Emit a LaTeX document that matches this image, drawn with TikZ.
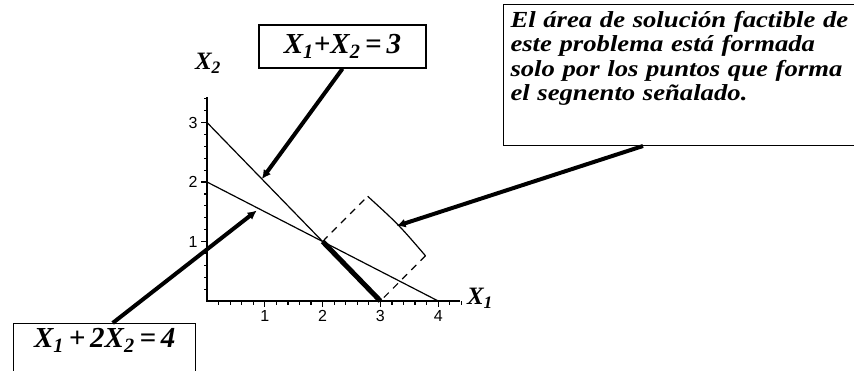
\documentclass[tikz,border=0pt]{standalone}
\usepackage{fontspec}
\setmainfont{Liberation Serif}
\newfontfamily\notefont{Liberation Serif}[FakeStretch=1.16]
\newfontfamily\tickfont{Liberation Sans}
\usetikzlibrary{arrows.meta,positioning,calc}
\newcommand{\xv}[1]{X\textsubscript{#1}}

\begin{document}
\begin{tikzpicture}[x=1pt, y=1pt,
    eqbox/.style={draw=black, line width=1.4pt, fill=white, inner xsep=6pt, inner ysep=4pt,
      font=\bfseries\itshape\fontsize{29}{32}\selectfont},
    notebox/.style={draw=black, line width=1pt, fill=white, inner xsep=7pt, inner ysep=7pt,
      align=left, text width=370pt, text height=16pt, text depth=111pt,
      font=\notefont\bfseries\itshape\fontsize{23}{24.3}\selectfont},
    axislabel/.style={inner sep=0pt, font=\bfseries\itshape\fontsize{25}{28}\selectfont},
    ticklabel/.style={inner sep=0pt, font=\tickfont\fontsize{16}{18}\selectfont},
    axis/.style={line width=2.6pt, line join=miter},
    tick/.style={line width=1.2pt},
    bound/.style={line width=1.2pt},
    feasible/.style={line width=5pt},
    leg/.style={line width=1.2pt, dash pattern=on 7pt off 6pt},
    callout/.style={-{Latex[length=9pt,width=9pt]}, line width=4pt}
  ]
  \useasboundingbox (0,0) rectangle (854,370);
  \fill[white] (0,0) rectangle (854,370);
  \clip (0,0) rectangle (854,370);

  \begin{scope}[shift={(207,69)}, x=57.8pt, y=59.5pt]
    \coordinate (O) at (0,0);
    \coordinate (xend) at (4.38,0);
    \coordinate (yend) at (0,3.43);
    \coordinate (p03) at (0,3);
    \coordinate (p30) at (3,0);
    \coordinate (p02) at (0,2);
    \coordinate (p40) at (4,0);
    \coordinate (p21) at (2,1);
    \coordinate (cA) at (2.78,1.76);
    \coordinate (cB) at (3.78,0.76);
    \coordinate (hitA) at (0.95,2.05);
    \coordinate (hitB) at (0.86,1.52);
    \coordinate (hitC) at ($(cA)!0.5!(cB)$);

    \foreach \t in {0.2,0.4,...,4.41} \draw[tick] (\t,0) -- (\t,-0.06);
    \foreach \t in {0.2,0.4,...,3.41} \draw[tick] (0,\t) -- (-0.06,\t);
    \foreach \n in {1,2,3,4} \draw[tick] (\n,0) -- (\n,-0.1) node[below=3pt, ticklabel] {\n};
    \foreach \n in {1,2,3} \draw[tick] (0,\n) -- (-0.1,\n) node[left=3pt, ticklabel] {\n};
    \draw[axis] (yend) -- (O) -- (xend);

    \draw[bound] (p03) -- (p30);
    \draw[bound] (p02) -- (p40);
    \draw[feasible] (p21) -- (p30);

    \draw[leg] (p21) -- (cA);
    \draw[bound] (cA) .. controls ($(cA)!0.5!(cB)+(0.03,0.03)$) .. (cB);
    \draw[leg] (cB) -- (p30);
  \end{scope}

  \node[axislabel] (x2lab) at (208,307) {\xv{2}};
  \node[axislabel] (x1lab) at (480,72) {\xv{1}};

  \node[eqbox, minimum width=167pt, minimum height=43pt] (eqA) at (342.5,323.5) {\xv{1}+\xv{2}\,=\,3};
  \node[eqbox, anchor=north west, minimum width=182pt, text height=20pt, text depth=25pt] (eqB) at (13,47) {\xv{1}\,+\,2\xv{2}\,=\,4};
  \node[notebox, anchor=north west] (note) at (503,366) {El área de solución factible de\\este problema está formada\\solo por los puntos que forma\\el segnento señalado.};

  \draw[callout] (eqA.south) -- (hitA);
  \draw[callout] ([xshift=8pt]eqB.north) -- (hitB);
  \draw[callout] ([xshift=140pt]note.south west) -- (hitC);
\end{tikzpicture}
\end{document}
